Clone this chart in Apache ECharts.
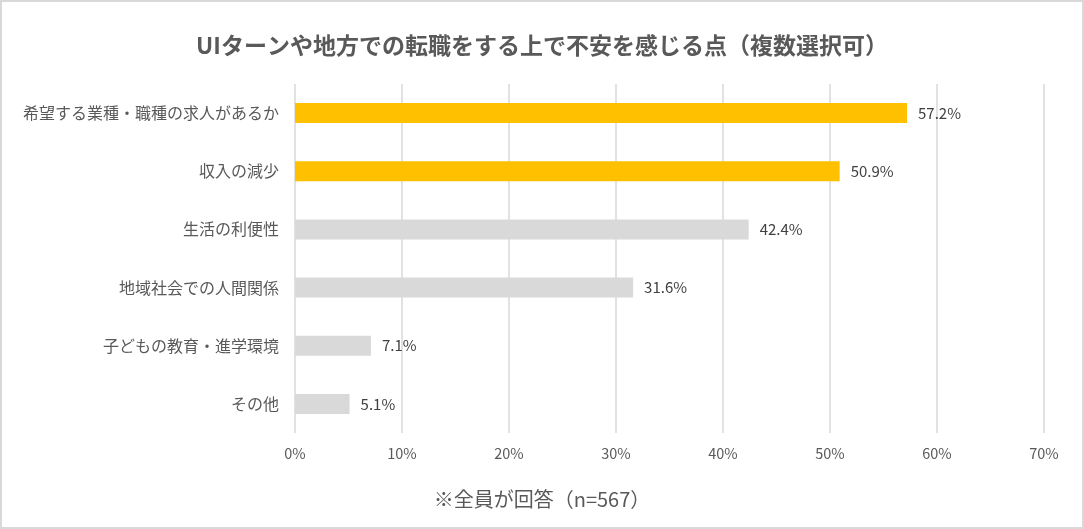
<!DOCTYPE html>
<html>
<head>
<meta charset="utf-8">
<script src="https://cdn.jsdelivr.net/npm/echarts@6/dist/echarts.min.js"></script>
<style>
  html, body { margin: 0; padding: 0; background: #fff; }
  #chart { width: 1084px; height: 529px; box-sizing: border-box; border: 2px solid #d9d9d9; }
</style>
</head>
<body>
<div id="chart"></div>
<script>
// 項目（上から順）
const categories = [
  '希望する業種・職種の求人があるか',
  '収入の減少',
  '生活の利便性',
  '地域社会での人間関係',
  '子どもの教育・進学環境',
  'その他'
];
// 回答率（%）
const values = [57.2, 50.9, 42.4, 31.6, 7.1, 5.1];
// 上位2項目を強調
const highlighted = [true, true, false, false, false, false];

const FONT = '"Noto Sans CJK JP", "Noto Sans", sans-serif';

const chart = echarts.init(document.getElementById('chart'));

chart.setOption({
  animation: false,
  textStyle: { fontFamily: FONT },
  title: [
    {
      text: 'UIターンや地方での転職をする上で不安を感じる点（複数選択可）',
      left: 'center',
      top: 27,
      textStyle: { fontSize: 23, fontWeight: 'bold', color: '#595959', fontFamily: FONT }
    },
    {
      text: '※全員が回答（n=567）',
      left: 'center',
      top: 482,
      textStyle: { fontSize: 20, fontWeight: 'normal', color: '#595959', fontFamily: FONT }
    }
  ],
  grid: { left: 293, right: 38, top: 82, bottom: 94, containLabel: false },
  xAxis: {
    type: 'value',
    min: 0,
    max: 70,
    interval: 10,
    axisLine: { show: false },
    axisTick: { show: false },
    axisLabel: {
      formatter: '{value}%',
      color: '#595959',
      fontSize: 14.5,
      margin: 13
    },
    splitLine: { lineStyle: { color: '#d9d9d9', width: 1.5 } }
  },
  yAxis: {
    type: 'category',
    data: categories,
    inverse: true,
    axisLine: { show: false },
    axisTick: { show: false },
    axisLabel: { color: '#595959', fontSize: 16, margin: 16 }
  },
  series: [{
    type: 'bar',
    barWidth: 20,
    data: values.map((v, i) => ({
      value: v,
      itemStyle: { color: highlighted[i] ? '#ffc000' : '#d9d9d9' }
    })),
    label: {
      show: true,
      position: 'right',
      distance: 11,
      formatter: p => p.value.toFixed(1) + '%',
      color: '#404040',
      fontSize: 15
    }
  }]
});
</script>
</body>
</html>
